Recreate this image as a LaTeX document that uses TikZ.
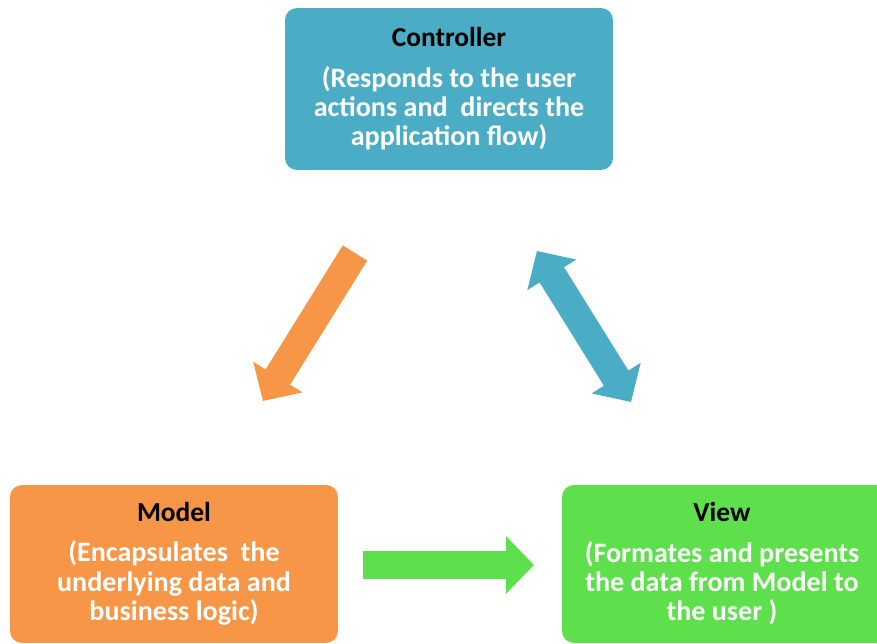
\documentclass[tikz,border=0pt]{standalone}
\usepackage{fontspec}
\setmainfont{Carlito}
\usetikzlibrary{arrows.meta}
\definecolor{ctrlblue}{HTML}{4BACC6}
\definecolor{modelorange}{HTML}{F79646}
\definecolor{viewgreen}{HTML}{5DE04B}
\tikzset{box/.style={rectangle, rounded corners=0.24cm, draw=none, minimum width=6.56cm, minimum height=#1, inner sep=0pt},
box/.default={3.16cm},
title/.style={font=\fontsize{15.6}{16.6}\selectfont\bfseries, text=black},
desc/.style={font=\fontsize{16}{16.6}\selectfont\bfseries, text=white, align=center},
%fat arrows, widths in pt
fat/.style={line width=16.4pt, line cap=butt, -{Triangle[length=16pt, width=32pt]}}}

\begin{document}
\begin{tikzpicture}[x=0.02cm,y=-0.02cm]
\useasboundingbox (0,0) rectangle (877,644);
% boxes
\node[box=3.24cm, fill=ctrlblue] (ctrl) at (449,89) {};
\node[box, fill=modelorange] (model) at (174,564) {};
\node[box, fill=viewgreen] (view) at (726,564) {};

%labels
\node[title] (ctrltitle) at (449,37) {Controller};
\node[desc] (ctrldesc) at (449,108) {(Responds to the user\\actions and\ \ directs the\\application flow)};
\node[title] (modeltitle) at (174,512) {Model};
\node[desc] (modeldesc) at (174,583) {(Encapsulates\ \ the\\underlying data and\\business logic)};
\node[title] (viewtitle) at (722,512) {View};
\node[desc] (viewdesc) at (722,583) {(Formates and presents\\the data from Model to\\the user )};

% arrows
\coordinate (otail) at (355,253);
\coordinate (otip) at (263,401);
\coordinate (btop) at (537,251);
\coordinate (bbot) at (631,402);
\coordinate (gtail) at (363,565);
\coordinate (gtip) at (534,565);
\draw[fat, modelorange] (otail) -- (otip);
\draw[fat, ctrlblue, {Triangle[length=16pt, width=32pt]}-{Triangle[length=16pt, width=32pt]}] (btop) -- (bbot);
\draw[fat, viewgreen] (gtail) -- (gtip);

\end{tikzpicture}
\end{document}
